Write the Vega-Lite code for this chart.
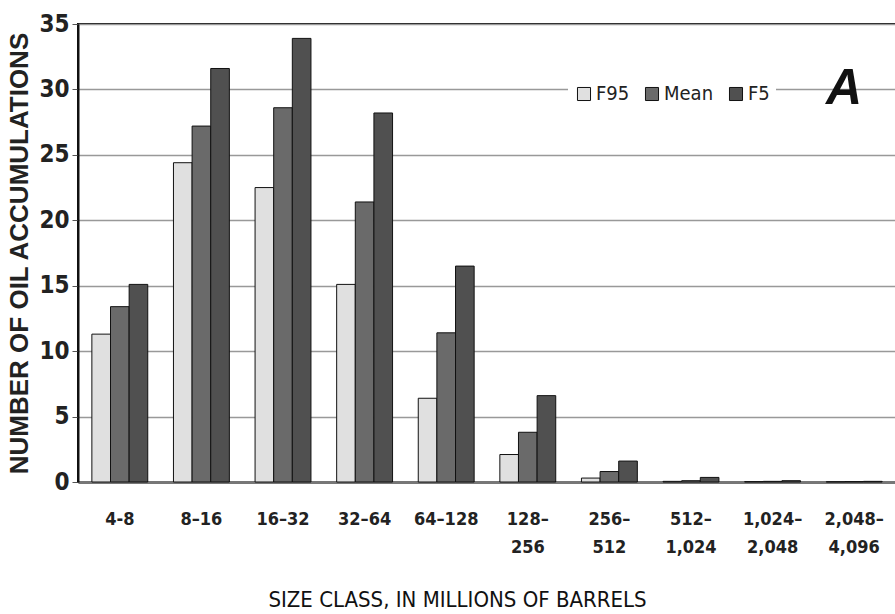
{
  "$schema": "https://vega.github.io/schema/vega-lite/v6.json",
  "width": 818,
  "height": 458,
  "autosize": {"type": "none"},
  "padding": {"left": 78, "top": 24, "right": 0, "bottom": 132},
  "background": "white",
  "title": {
    "text": "A",
    "anchor": "end",
    "frame": "group",
    "orient": "top",
    "dx": -34,
    "dy": 106,
    "font": "Liberation Sans",
    "fontSize": 50,
    "fontStyle": "italic",
    "fontWeight": "bold",
    "color": "#111"
  },
  "data": {
    "values": [
      {"size": "4-8", "series": "F95", "count": 11.3},
      {"size": "4-8", "series": "Mean", "count": 13.4},
      {"size": "4-8", "series": "F5", "count": 15.1},
      {"size": "8–16", "series": "F95", "count": 24.4},
      {"size": "8–16", "series": "Mean", "count": 27.2},
      {"size": "8–16", "series": "F5", "count": 31.6},
      {"size": "16–32", "series": "F95", "count": 22.5},
      {"size": "16–32", "series": "Mean", "count": 28.6},
      {"size": "16–32", "series": "F5", "count": 33.9},
      {"size": "32–64", "series": "F95", "count": 15.1},
      {"size": "32–64", "series": "Mean", "count": 21.4},
      {"size": "32–64", "series": "F5", "count": 28.2},
      {"size": "64–128", "series": "F95", "count": 6.4},
      {"size": "64–128", "series": "Mean", "count": 11.4},
      {"size": "64–128", "series": "F5", "count": 16.5},
      {"size": "128–256", "series": "F95", "count": 2.1},
      {"size": "128–256", "series": "Mean", "count": 3.8},
      {"size": "128–256", "series": "F5", "count": 6.6},
      {"size": "256–512", "series": "F95", "count": 0.3},
      {"size": "256–512", "series": "Mean", "count": 0.8},
      {"size": "256–512", "series": "F5", "count": 1.6},
      {"size": "512–1,024", "series": "F95", "count": 0.05},
      {"size": "512–1,024", "series": "Mean", "count": 0.1},
      {"size": "512–1,024", "series": "F5", "count": 0.35},
      {"size": "1,024–2,048", "series": "F95", "count": 0.03},
      {"size": "1,024–2,048", "series": "Mean", "count": 0.05},
      {"size": "1,024–2,048", "series": "F5", "count": 0.1},
      {"size": "2,048–4,096", "series": "F95", "count": 0.02},
      {"size": "2,048–4,096", "series": "Mean", "count": 0.03},
      {"size": "2,048–4,096", "series": "F5", "count": 0.05}
    ]
  },
  "mark": {"type": "bar", "stroke": "#111", "strokeWidth": 1},
  "encoding": {
    "x": {
      "field": "size",
      "type": "nominal",
      "sort": null,
      "scale": {"paddingInner": 0.315, "paddingOuter": 0.17},
      "axis": {
        "title": "SIZE CLASS, IN MILLIONS OF BARRELS",
        "labelAngle": 0,
        "labelExpr": "length(datum.label) > 6 ? [split(datum.label, '–')[0] + '–', split(datum.label, '–')[1]] : datum.label",
        "labelFont": "DejaVu Sans Condensed",
        "labelFontSize": 18,
        "labelFontWeight": "bold",
        "labelColor": "#222",
        "labelPadding": 28,
        "labelLineHeight": 28,
        "labelBaseline": "top",
        "ticks": false,
        "domainColor": "#777",
        "domainWidth": 3,
        "titleFont": "DejaVu Sans Condensed",
        "titleFontSize": 22,
        "titleFontWeight": "normal",
        "titleColor": "#111",
        "titlePadding": 33,
        "titleX": 379
      }
    },
    "xOffset": {
      "field": "series",
      "type": "nominal",
      "sort": ["F95", "Mean", "F5"],
      "scale": {"paddingInner": 0, "paddingOuter": 0}
    },
    "y": {
      "field": "count",
      "type": "quantitative",
      "scale": {"domain": [0, 35], "nice": false},
      "axis": {
        "title": "NUMBER OF OIL ACCUMULATIONS",
        "values": [0, 5, 10, 15, 20, 25, 30, 35],
        "labelFont": "DejaVu Sans Condensed",
        "labelFontSize": 24,
        "labelFontWeight": "bold",
        "labelColor": "#222",
        "labelPadding": 3,
        "tickSize": 6,
        "tickColor": "#555",
        "domainColor": "#111",
        "domainWidth": 2,
        "gridColor": "#999",
        "gridWidth": 1.5,
        "titleFont": "Liberation Sans",
        "titleFontSize": 26,
        "titleFontWeight": "bold",
        "titleColor": "#222",
        "titlePadding": 6
      }
    },
    "color": {
      "field": "series",
      "type": "nominal",
      "sort": ["F95", "Mean", "F5"],
      "scale": {"domain": ["F95", "Mean", "F5"], "range": ["#e0e0e0", "#6a6a6a", "#505050"]},
      "legend": {
        "title": null,
        "orient": "none",
        "legendX": 490,
        "legendY": 54,
        "direction": "horizontal",
        "symbolType": "square",
        "symbolSize": 170,
        "symbolStrokeColor": "#111",
        "symbolStrokeWidth": 1,
        "symbolOpacity": 1,
        "labelFont": "DejaVu Sans Condensed",
        "labelFontSize": 20,
        "labelColor": "#222",
        "labelOffset": 2,
        "columnPadding": 12,
        "fillColor": "white",
        "padding": 6
      }
    }
  },
  "config": {
    "view": {"stroke": "#111", "strokeWidth": 2}
  }
}
